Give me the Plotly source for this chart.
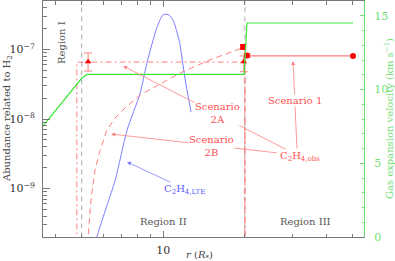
import math
import plotly.graph_objects as go

# ---------------- data ----------------
region_bounds = [5.0, 20.0]

# gas expansion velocity (right axis)
r_vel = [3.5, 5.01, 5.23, 19.86, 20.36, 50.1]
v_vel = [7.25, 10.78, 11.02, 11.02, 14.51, 14.51]

# LTE abundance
r_lte = [5.3, 5.69, 6.64, 7.35, 8.20, 8.71, 9.48, 9.97, 10.4, 10.85, 11.5, 12.0, 12.66]
ab_lte = [5e-11, 2.0e-10, 1.3e-9, 6.9e-9, 2.3e-8, 6.5e-8, 2.1e-7, 3.15e-7, 3.2e-7,
          2.7e-7, 1.23e-7, 4.0e-8, 1.26e-8]

# Scenario 2A (dash-dot)
r_2a = [4.80, 4.80, 20.0, 20.0]
ab_2a = [1e-11, 6.6e-8, 6.6e-8, 1e-11]

# Scenario 2B (dashed)
r_2b = [5.2, 5.28, 5.41, 5.60, 5.84, 6.19, 6.64, 7.22, 8.20, 9.72, 11.53, 14.86, 19.5, 20.0, 20.0]
ab_2b = [3e-11, 2.0e-10, 6.8e-10, 1.84e-9, 3.5e-9, 6.9e-9, 1.03e-8, 1.44e-8, 2.2e-8,
         3.2e-8, 4.6e-8, 7.1e-8, 1.05e-7, 1.06e-7, 1e-11]

# Scenario 1 (solid)
r_s1 = [20.36, 50.1]
ab_s1 = [8.1e-8, 8.1e-8]

# observed abundances
r_obs_tri = [5.28, 19.8]
ab_obs_tri = [6.7e-8, 6.7e-8]
err_tri_up = [2.2e-8, 1.4e-8]
err_tri_dn = [1.8e-8, 1.9e-8]
r_obs_sq = [19.7]
ab_obs_sq = [1.09e-7]
r_obs_circ = [20.36]
ab_obs_circ = [8.2e-8]
err_circ = [0.5e-8]

x_tick_major = [10]
x_tick_minor = [4, 5, 6, 7, 8, 9, 20, 30, 40, 50]
y_tick_major = [1e-9, 1e-8, 1e-7]
y_tick_labels = ["10<sup>−9</sup>", "10<sup>−8</sup>", "10<sup>−7</sup>"]
y_tick_minor = [m * 10.0 ** e for e in (-10, -9, -8, -7) for m in range(2, 10)]
v_ticks = [0, 5, 10, 15]

# ---------------- styles ----------------
PINK = "rgb(255,128,128)"
RED = "rgb(255,0,0)"
BLUE = "rgb(125,125,255)"
GREEN = "rgb(60,230,60)"
LGREEN = "rgb(110,225,110)"
GRAY = "rgb(170,170,170)"
AX = "rgb(120,120,120)"
FONT = "DejaVu Serif"

fig = go.Figure()

for rb in region_bounds:
    fig.add_trace(go.Scatter(x=[rb, rb], y=[1e-11, 1e-5], mode="lines",
                             line=dict(color=GRAY, width=1, dash="5px,4px"), hoverinfo="skip"))

fig.add_trace(go.Scatter(x=r_vel, y=v_vel, yaxis="y2", mode="lines",
                         line=dict(color=GREEN, width=1.2)))
fig.add_trace(go.Scatter(x=r_lte, y=ab_lte, mode="lines", line=dict(color=BLUE, width=1, shape="spline", smoothing=0.6)))
fig.add_trace(go.Scatter(x=r_2a, y=ab_2a, mode="lines", line=dict(color=PINK, width=1, dash="6px,3px,2px,3px")))
fig.add_trace(go.Scatter(x=r_2b, y=ab_2b, mode="lines", line=dict(color=PINK, width=1, dash="6px,4px")))
fig.add_trace(go.Scatter(x=r_s1, y=ab_s1, mode="lines", line=dict(color=PINK, width=1.2)))
fig.add_trace(go.Scatter(x=r_s1[-1:], y=ab_s1[-1:], mode="markers",
                         marker=dict(color=RED, size=6, symbol="circle")))

fig.add_trace(go.Scatter(x=r_obs_tri, y=ab_obs_tri, mode="markers",
                         marker=dict(color=RED, size=6, symbol="triangle-up"),
                         error_y=dict(type="data", array=err_tri_up, arrayminus=err_tri_dn,
                                      color=PINK, thickness=1, width=4)))
fig.add_trace(go.Scatter(x=r_obs_sq, y=ab_obs_sq, mode="markers",
                         marker=dict(color=RED, size=6, symbol="square")))
fig.add_trace(go.Scatter(x=r_obs_circ, y=ab_obs_circ, mode="markers",
                         marker=dict(color=RED, size=6, symbol="circle"),
                         error_y=dict(type="data", array=err_circ, color=PINK, thickness=1, width=4)))

L = math.log10
ann = []

def arrow(head_r, head_ab, ax, ay, color):
    ann.append(dict(x=L(head_r), y=L(head_ab), xref="x", yref="y", text="", showarrow=True,
                    ax=ax, ay=ay, arrowhead=2, arrowsize=1, arrowwidth=0.8, arrowcolor=color))

def label(r, ab, text, color, angle=0, bg=None, size=10):
    d = dict(x=L(r), y=L(ab), xref="x", yref="y", text=text, showarrow=False,
             font=dict(family=FONT, size=size, color=color), textangle=angle)
    if bg:
        d["bgcolor"] = bg
        d["borderpad"] = 0
    ann.append(d)

arrow(7.11, 10 ** -7.237, 164, 84, PINK)
arrow(6.42, 10 ** -8.216, 167, 19, PINK)
arrow(30.1, 10 ** -7.165, 4, 89, PINK)
arrow(7.35, 10 ** -8.619, 45, 21, BLUE)

label(4.23, 10 ** -6.891, "Region I", "#555", angle=-90)
label(10.0, 10 ** -9.469, "Region II", "#555")
label(33.4, 10 ** -9.469, "Region III", "#555")
label(15.8, 10 ** -7.914, "Scenario<br>2A", "rgb(255,80,80)", bg="white")
label(15.0, 10 ** -8.39, "Scenario<br>2B", "rgb(255,80,80)", bg="white")
label(30.6, 10 ** -7.727, "Scenario 1", "rgb(255,80,80)", bg="white")
label(31.9, 10 ** -8.533, "C<sub>2</sub>H<sub>4,obs</sub>", "rgb(255,80,80)")
label(12.0, 10 ** -9.022, "C<sub>2</sub>H<sub>4,LTE</sub>", "rgb(90,90,255)")

# axis titles as annotations
ann.append(dict(xref="paper", yref="paper", x=0.489, y=0, yshift=-18, yanchor="middle",
                text="<i>r</i> (<i>R</i><sub>*</sub>)", showarrow=False,
                font=dict(family=FONT, size=10, color="#444")))
ann.append(dict(xref="paper", yref="paper", x=0, y=0.5, xshift=-36, xanchor="center",
                text="Abundance related to H<sub>2</sub>", showarrow=False, textangle=-90,
                font=dict(family=FONT, size=10, color="#444")))
ann.append(dict(xref="paper", yref="paper", x=1, y=0.5, xshift=25, xanchor="center",
                text="Gas expansion velocity (km s<sup>−1</sup>)", showarrow=False, textangle=-90,
                font=dict(family=FONT, size=10, color=LGREEN)))

fig.update_layout(
    width=395, height=261, margin=dict(l=43, r=31, t=1, b=24, autoexpand=False),
    plot_bgcolor="white", paper_bgcolor="white", showlegend=False,
    font=dict(family=FONT, size=11, color="#333"),
    annotations=ann,
    xaxis=dict(type="log", range=[L(3.6), L(55)], tickvals=x_tick_major, ticktext=["10"],
               ticks="inside", ticklen=6, tickcolor=AX, showline=True, linecolor=AX, linewidth=1,
               mirror="ticks", showgrid=False, zeroline=False, ticklabelstandoff=3, automargin=False,
               minor=dict(tickvals=x_tick_minor, ticks="inside", ticklen=3.5, tickcolor=AX, showgrid=False)),
    yaxis=dict(type="log", range=[L(2e-10), L(5e-7)], tickvals=y_tick_major, ticktext=y_tick_labels,
               ticks="inside", ticklen=7, tickcolor=AX, showline=True, linecolor=AX, linewidth=1,
               showgrid=False, zeroline=False, ticklabelstandoff=5, automargin=False,
               minor=dict(tickvals=y_tick_minor, ticks="inside", ticklen=4, tickcolor=AX, showgrid=False)),
    yaxis2=dict(overlaying="y", side="right", range=[0, 16], tickvals=v_ticks,
                ticks="inside", ticklen=4.5, tickcolor=LGREEN, showline=True, linecolor=LGREEN,
                linewidth=1, showgrid=False, zeroline=False, ticklabelstandoff=7, automargin=False,
                tickfont=dict(family=FONT, size=11, color=LGREEN),
                minor=dict(dtick=1, ticks="inside", ticklen=2.5, tickcolor=LGREEN, showgrid=False)),
)

fig.write_html("out.html", config={"displayModeBar": False},
               post_script="document.body.style.margin='0';document.body.style.overflow='hidden';")
